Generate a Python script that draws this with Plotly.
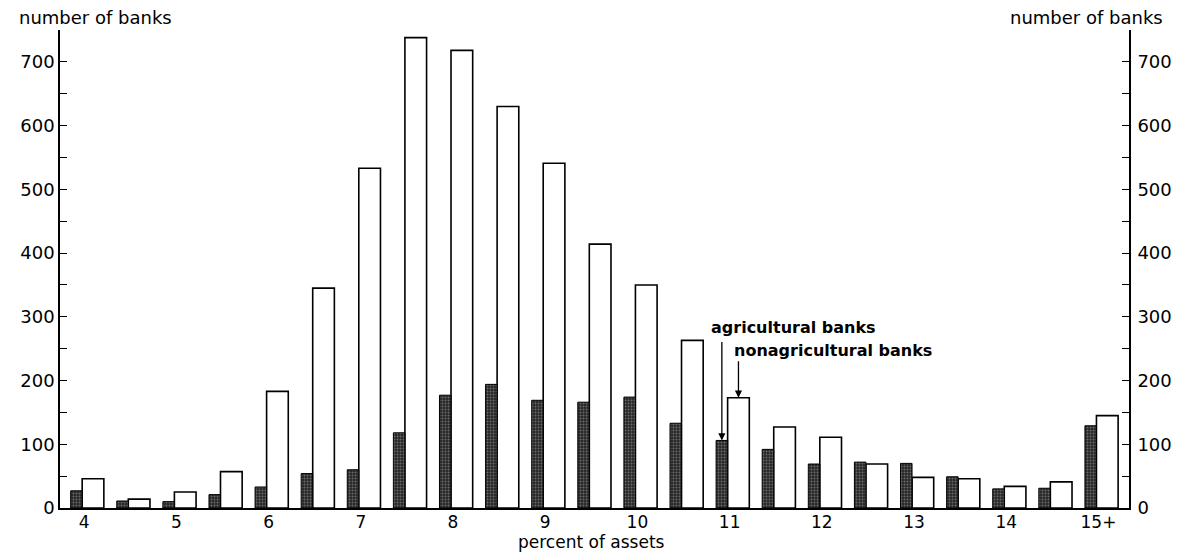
import plotly.graph_objects as go

# percent-of-assets bins (half-point steps, last bin is 15+)
bins = [4, 4.5, 5, 5.5, 6, 6.5, 7, 7.5, 8, 8.5, 9, 9.5, 10, 10.5, 11, 11.5,
        12, 12.5, 13, 13.5, 14, 14.5, 15]
agricultural = [27, 11, 10, 21, 33, 54, 60, 118, 177, 194, 169, 166, 174, 133,
                106, 92, 69, 72, 70, 49, 30, 31, 129]
nonagricultural = [46, 14, 25, 57, 183, 345, 533, 738, 718, 630, 541, 414, 350,
                   263, 173, 127, 111, 69, 48, 46, 34, 41, 145]
tick_values = [4, 5, 6, 7, 8, 9, 10, 11, 12, 13, 14, 15]
tick_labels = ["4", "5", "6", "7", "8", "9", "10", "11", "12", "13", "14", "15+"]

FONT = "DejaVu Sans"
AGRI_W = 0.125
NON_W = 0.235

fig = go.Figure()
fig.add_trace(go.Bar(
    x=bins, y=nonagricultural, name="nonagricultural banks",
    width=NON_W, offset=0,
    marker=dict(color="white", line=dict(color="black", width=1.6)),
    yaxis="y", showlegend=False,
))
fig.add_trace(go.Bar(
    x=bins, y=agricultural, name="agricultural banks",
    width=AGRI_W, offset=-AGRI_W,
    marker=dict(color="#262626", line=dict(color="black", width=1),
                pattern=dict(shape=".", fgcolor="#b0b0b0", size=3, solidity=0.35)),
    yaxis="y2", showlegend=False,
))

yax = dict(range=[0, 750], tickvals=[0, 100, 200, 300, 400, 500, 600, 700],
           ticks="inside", ticklen=7, tickwidth=1.3, tickcolor="black",
           minor=dict(tickvals=[50, 150, 250, 350, 450, 550, 650, 750],
                      ticks="inside", ticklen=7, tickwidth=1.3, tickcolor="black"),
           showline=True, linecolor="black", linewidth=1.6,
           showgrid=False, zeroline=False,
           tickfont=dict(family=FONT, size=18, color="black"))

# the page's body keeps its default 8px margin, so the figure is 8px smaller
fig.update_layout(
    width=1176, height=544,
    margin=dict(l=44, r=48, t=22, b=44),
    paper_bgcolor="white", plot_bgcolor="white",
    barmode="overlay",
    font=dict(family=FONT, size=18, color="black"),
    xaxis=dict(range=[3.7594, 15.353], tickvals=tick_values, ticktext=tick_labels,
               ticks="", showline=True, linecolor="black", linewidth=1.6,
               showgrid=False, zeroline=False, ticklabelshift=2,
               ticklabelstandoff=-2,
               tickfont=dict(family=FONT, size=17, color="black")),
    yaxis=dict(side="left", **yax),
    yaxis2=dict(side="right", overlaying="y", matches="y",
                ticklabelstandoff=3, **yax),
)

i11 = bins.index(11)
annotations = [
    dict(text="number of banks", xref="paper", yref="paper", x=-0.0406, y=1.027,
         xanchor="left", yanchor="middle", showarrow=False,
         font=dict(family=FONT, size=18)),
    dict(text="number of banks", xref="paper", yref="paper", x=1.0341, y=1.027,
         xanchor="right", yanchor="middle", showarrow=False,
         font=dict(family=FONT, size=18)),
    dict(text="percent of assets", xref="paper", yref="paper", x=0.4972, y=-0.0711,
         xanchor="center", yanchor="middle", showarrow=False,
         font=dict(family=FONT, size=17)),
    dict(text="<b>agricultural banks</b>", xref="paper", yref="paper", x=0.607, y=0.3766,
         xanchor="left", yanchor="middle", showarrow=False,
         font=dict(family=FONT, size=16)),
    dict(text="<b>nonagricultural banks</b>", xref="paper", yref="paper", x=0.629, y=0.3305,
         xanchor="left", yanchor="middle", showarrow=False,
         font=dict(family=FONT, size=16)),
    dict(text="", x=bins[i11] - AGRI_W / 2, y=agricultural[i11], xref="x", yref="y",
         showarrow=True, ax=0, ay=-100, arrowhead=2, arrowsize=1.1, arrowwidth=1.3,
         arrowcolor="black"),
    dict(text="", x=bins[i11] + NON_W / 2, y=nonagricultural[i11], xref="x", yref="y",
         showarrow=True, ax=0, ay=-38, arrowhead=2, arrowsize=1.1, arrowwidth=1.3,
         arrowcolor="black"),
]
fig.update_layout(annotations=annotations)

fig.write_html("out.html")
